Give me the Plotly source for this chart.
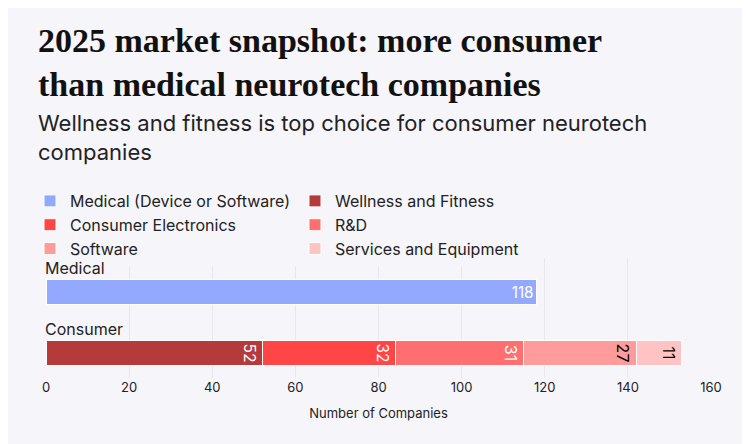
import plotly.graph_objects as go

groups = ["Consumer", "Medical"]
segments = ["Medical (Device or Software)", "Wellness and Fitness", "Consumer Electronics",
            "R&D", "Software", "Services and Equipment"]
medical_vals = [None, 118]
consumer_vals = [52, 32, 31, 27, 11]
colors = ["#93a9fd", "#b53a3a", "#ff4646", "#ff6f6f", "#ff9b9b", "#ffc3c3"]
text_colors = ["white", "white", "white", "white", "black", "black"]

fig = go.Figure()
fig.add_trace(go.Bar(y=groups, x=medical_vals, name=segments[0], orientation="h",
                     marker=dict(color=colors[0], line=dict(color="white", width=1)),
                     text=medical_vals, textposition="inside", insidetextanchor="end",
                     textfont=dict(color=text_colors[0], size=16)))
for i, v in enumerate(consumer_vals):
    fig.add_trace(go.Bar(y=groups, x=[v, None], name=segments[i + 1], orientation="h",
                         marker=dict(color=colors[i + 1], line=dict(color="white", width=1)),
                         text=[v, None], textposition="inside", insidetextanchor="end",
                         textfont=dict(color=text_colors[i + 1], size=16)))

for g in groups:
    fig.add_annotation(x=0, y=g, xref="x", yref="y", text=g, showarrow=False,
                       xanchor="left", yanchor="bottom", yshift=12, xshift=-3,
                       font=dict(size=16, color="#222"))

# title + subtitle as annotations for exact placement
fig.add_annotation(x=28, y=444 - 12, xref="paper", yref="paper", text="<b>2025 market snapshot: more consumer<br>than medical neurotech companies</b>",
                   showarrow=False, xanchor="left", yanchor="top", align="left")
fig.layout.annotations[-1].update(font=dict(family="Liberation Serif", size=34, color="#111"))
fig.add_annotation(x=28, y=444 - 100, text="Wellness and fitness is top choice for consumer neurotech<br>companies",
                   showarrow=False, xanchor="left", yanchor="top", align="left",
                   font=dict(family="Inter", size=22, color="#222"))

# convert pixel positions to paper coords
for a in fig.layout.annotations[2:]:
    a.xref = "paper"
    a.yref = "paper"
    a.x = (a.x - 38) / 665
    a.y = (a.y - 74) / 120

fig.update_layout(
    width=750, height=444, barmode="stack", bargap=0.59,
    paper_bgcolor="#f6f5fa", plot_bgcolor="#f6f5fa",
    font=dict(family="Inter", color="#222"),
    margin=dict(l=38, r=47, t=250, b=74, autoexpand=False),
    legend=dict(orientation="h", x=(22 - 38) / 665, xanchor="left", y=(444 - 176 - 74) / 120,
                yanchor="top", font=dict(size=16), traceorder="normal"),
    showlegend=True,
)
fig.update_xaxes(range=[0, 160], dtick=20, showgrid=True, gridcolor="#e8e7ee",
                 zeroline=False, title=dict(text="Number of Companies", font=dict(size=13), standoff=14),
                 tickfont=dict(size=13), ticks="")
fig.update_yaxes(showticklabels=False, showgrid=False, range=[-0.41, 1.56])
fig.write_html("out.html")
